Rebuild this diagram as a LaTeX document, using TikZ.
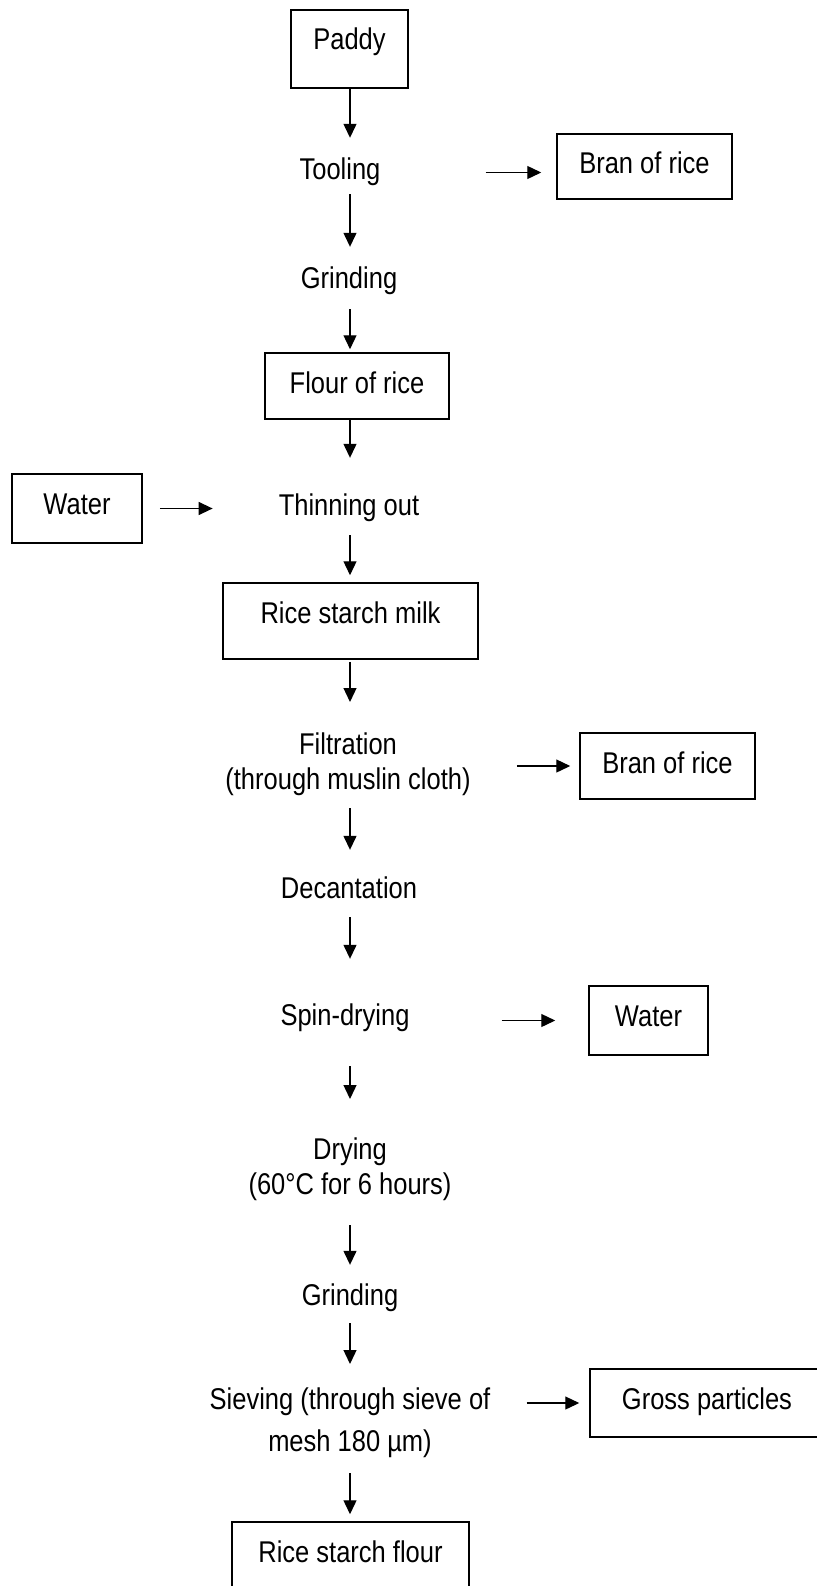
\documentclass[tikz,border=0pt]{standalone}
\usepackage{fontspec}
\setmainfont{Liberation Sans}[FakeStretch=0.85]
\usetikzlibrary{arrows.meta}

\begin{document}
\begin{tikzpicture}[x=1pt,y=-1pt,
  font=\fontsize{30}{35}\selectfont,
  box/.style={draw=black,line width=1.5pt,text height=40pt},
  stage/.style={text height=22pt,text depth=7pt,anchor=base},
  multi/.style={align=center,anchor=north},
  arr/.style={draw=black,line width=1.3pt,-{Triangle[length=14pt,width=13pt]}}]
\tikzstyle{every node}+=[inner sep=0pt]
\useasboundingbox (0,0) rectangle (816,1586);
\coordinate (col) at (350,0);
\node [box,minimum width=117pt,text depth=38pt] (paddy) at (349.5,49) {Paddy};
\node [stage] (tool) at (340,180) {Tooling};
\node [box,minimum width=175pt,text depth=25pt] (bran1) at (644.5,166.5) {Bran of rice};
\node [stage] (grind1) at (349,289) {Grinding};
\node [box,minimum width=184pt,text depth=26pt] (flour) at (357,386) {Flour of rice};
\node [box,minimum width=130pt,text depth=29pt] (water1) at (77,508.5) {Water};
\node [stage] (thin) at (349,515) {Thinning out};
\node [box,minimum width=255pt,text depth=36pt] (milk) at (350.5,621) {Rice starch milk};
\node [multi] (filt) at (348,733) {Filtration\\(through muslin cloth)};
\node [box,minimum width=175pt,text depth=26pt] (bran2) at (667.5,766) {Bran of rice};
\node [stage] (dec) at (349,898) {Decantation};
\node [stage] (spin) at (345,1025) {Spin-drying};
\node [box,minimum width=119pt,text depth=29pt] (water2) at (648.5,1020.5) {Water};
\node [multi] (dry) at (350,1138) {Drying\\(60°C for 6 hours)};
\node [stage] (grind2) at (350,1305) {Grinding};
\node [multi] (sieve) at (350,1388) {Sieving (through sieve of\\[7pt]mesh 180 µm)};
\node [box,minimum width=234pt,text depth=28pt] (gross) at (707,1403) {Gross particles};
\node [box,minimum width=237pt,text depth=36pt] (starch) at (350.5,1560) {Rice starch flour};
\draw [arr,shorten >=20pt] (col |- paddy.south) -- (col |- tool.north);
\draw [arr,shorten <=7pt,shorten >=20pt] (col |- tool.south) -- (col |- grind1.north);
\draw [arr,shorten <=13pt,shorten >=3pt] (col |- grind1.south) -- (col |- flour.north);
\draw [arr,shorten >=35pt] (col |- flour.south) -- (col |- thin.north);
\draw [arr,shorten <=13pt,shorten >=7pt] (col |- thin.south) -- (col |- milk.north);
\draw [arr,shorten <=2pt,shorten >=31pt] (col |- milk.south) -- (col |- filt.north);
\draw [arr,shorten <=12pt,shorten >=26pt] (col |- filt.south) -- (col |- dec.north);
\draw [arr,shorten <=12pt,shorten >=44pt] (col |- dec.south) -- (col |- spin.north);
\draw [arr,shorten <=34pt,shorten >=39pt] (col |- spin.south) -- (col |- dry.north);
\draw [arr,shorten <=24pt,shorten >=18pt] (col |- dry.south) -- (col |- grind2.north);
\draw [arr,shorten <=11pt,shorten >=24pt] (col |- grind2.south) -- (col |- sieve.north);
\draw [arr,shorten <=15pt,shorten >=7pt] (col |- sieve.south) -- (col |- starch.north);
\draw [arr,shorten <=105pt,shorten >=15pt] (tool.east) -- (bran1.west |- tool.east);
\draw [arr,shorten <=17pt,shorten >=66pt] (water1.east) -- (thin.west |- water1.east);
\draw [arr,shorten <=46pt,shorten >=9pt] (filt.east |- bran2.west) -- (bran2.west);
\draw [arr,shorten <=92pt,shorten >=33pt] (spin.east |- water2.west) -- (water2.west);
\draw [arr,shorten <=36pt,shorten >=10pt] (sieve.east |- gross.west) -- (gross.west);
\end{tikzpicture}
\end{document}
